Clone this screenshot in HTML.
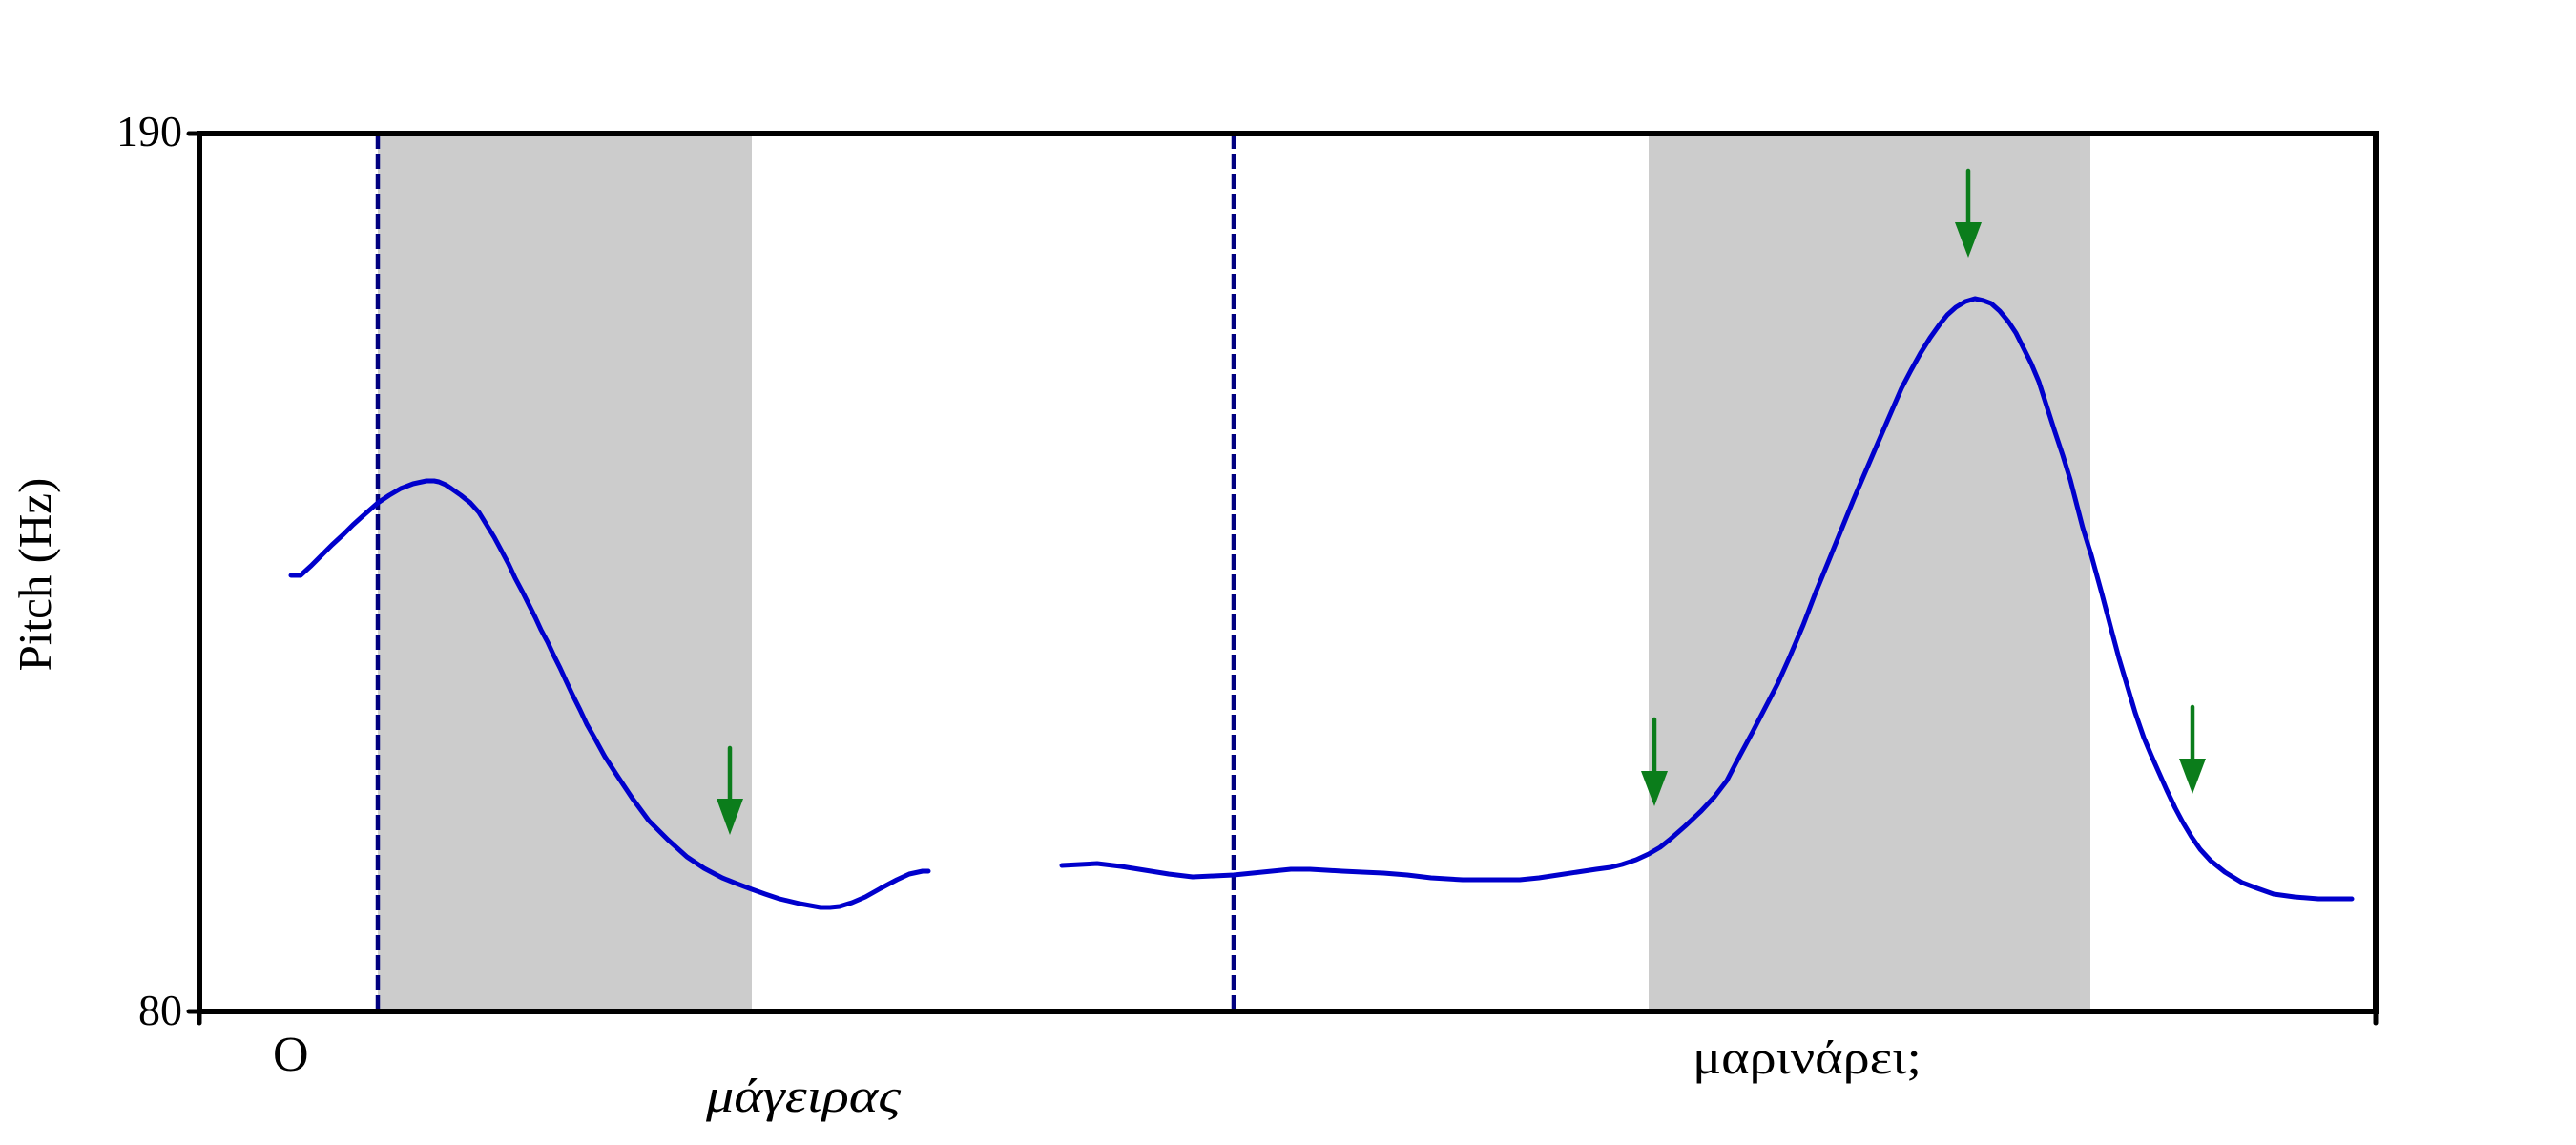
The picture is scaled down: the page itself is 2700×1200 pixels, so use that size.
<!DOCTYPE html>
<html>
<head>
<meta charset="utf-8">
<style>
  html, body { margin:0; padding:0; background:#ffffff; }
  svg { display:block; }
  text { font-family: "Liberation Serif", "DejaVu Serif", serif; fill:#000; }
</style>
</head>
<body>
<svg width="2700" height="1200" viewBox="0 0 2700 1200" xmlns="http://www.w3.org/2000/svg">
  <rect x="0" y="0" width="2700" height="1200" fill="#ffffff"/>

  <!-- shaded regions -->
  <rect x="396" y="140" width="392" height="920" fill="#cccccc"/>
  <rect x="1728" y="140" width="463" height="920" fill="#cccccc"/>

  <!-- dashed boundaries -->
  <line x1="396" y1="140" x2="396" y2="1060" stroke="#000080" stroke-width="4.5" stroke-dasharray="16 5"/>
  <line x1="1293" y1="140" x2="1293" y2="1060" stroke="#000080" stroke-width="4.5" stroke-dasharray="16 5"/>

  <!-- pitch curves -->
  <polyline fill="none" stroke="#0000cc" stroke-width="5" stroke-linejoin="round" stroke-linecap="round"
    points="305,603 315,603 326,593 337,582 348,571 360,560 370,550 380,541 388,534 396,527 408,519 420,512 433,507 447,504 455,504 460,505 467,508 473,512 483,519 493,527 502,537 510,550 518,563 525,576 533,591 540,606 548,621 555,635 561,647 567,660 574,673 580,686 587,700 593,713 600,728 608,744 615,759 623,773 634,793 647,813 663,837 680,860 700,880 720,898 738,910 757,920 772,926 788,932 802,937 817,942 838,947 860,951 870,951 880,950 893,946 907,940 923,931 940,922 953,916 967,913 973,913"/>
  <polyline fill="none" stroke="#0000cc" stroke-width="5" stroke-linejoin="round" stroke-linecap="round"
    points="1113,907 1150,905 1175,908 1200,912 1225,916 1250,919 1272,918 1293,917 1313,915 1333,913 1353,911 1373,911 1390,912 1407,913 1428,914 1450,915 1475,917 1500,920 1533,922 1563,922 1593,922 1613,920 1633,917 1653,914 1673,911 1688,909 1700,906 1715,901 1728,895 1740,888 1750,880 1766,866 1783,850 1797,835 1810,818 1823,793 1837,767 1850,742 1863,717 1876,688 1890,655 1903,621 1917,587 1930,555 1943,523 1955,495 1967,467 1980,437 1993,407 2003,388 2013,370 2023,354 2033,340 2041,330 2050,322 2060,316 2070,313 2079,315 2087,318 2096,326 2105,337 2113,349 2120,363 2129,381 2137,400 2145,425 2153,450 2162,477 2170,503 2177,530 2183,553 2192,582 2203,622 2213,660 2221,690 2230,720 2238,747 2247,773 2255,792 2263,810 2271,828 2280,847 2288,862 2297,877 2306,890 2317,902 2332,914 2350,925 2366,931 2383,937 2405,940 2430,942 2465,942"/>

  <!-- green arrows -->
  <g fill="#0b7d1b" stroke="#0b7d1b">
    <line x1="765" y1="784" x2="765" y2="840" stroke-width="4.5" stroke-linecap="round"/>
    <polygon points="751,837 779,837 765,875" stroke="none"/>
    <line x1="1734" y1="754" x2="1734" y2="811" stroke-width="4.5" stroke-linecap="round"/>
    <polygon points="1720,808 1748,808 1734,845" stroke="none"/>
    <line x1="2063" y1="179" x2="2063" y2="236" stroke-width="4.5" stroke-linecap="round"/>
    <polygon points="2049,233 2077,233 2063,270" stroke="none"/>
    <line x1="2298" y1="741" x2="2298" y2="798" stroke-width="4.5" stroke-linecap="round"/>
    <polygon points="2284,795 2312,795 2298,832" stroke="none"/>
  </g>

  <!-- axes frame -->
  <g stroke="#000" stroke-width="6" fill="none" stroke-linecap="square">
    <line x1="209" y1="140" x2="2490" y2="140"/>
    <line x1="209" y1="1060" x2="2490" y2="1060"/>
    <line x1="209" y1="140" x2="209" y2="1060"/>
    <line x1="2490" y1="140" x2="2490" y2="1060"/>
  </g>
  <!-- ticks -->
  <g stroke="#000" stroke-width="5" stroke-linecap="round">
    <line x1="198" y1="140" x2="209" y2="140"/>
    <line x1="198" y1="1060" x2="209" y2="1060"/>
    <line x1="209" y1="1060" x2="209" y2="1072"/>
    <line x1="2490" y1="1060" x2="2490" y2="1072"/>
  </g>

  <!-- tick labels -->
  <text x="191" y="153" font-size="46" text-anchor="end">190</text>
  <text x="191" y="1074" font-size="46" text-anchor="end">80</text>

  <!-- y axis label -->
  <text transform="translate(53,602) rotate(-90)" font-size="49" text-anchor="middle">Pitch (Hz)</text>

  <!-- word labels -->
  <text x="286" y="1122" font-size="52">Ο</text>
  <text x="740" y="1165" font-size="50" font-style="italic" textLength="204" lengthAdjust="spacingAndGlyphs">μάγειρας</text>
  <text x="1774" y="1125" font-size="50" textLength="240" lengthAdjust="spacingAndGlyphs">μαρινάρει;</text>
</svg>
</body>
</html>
